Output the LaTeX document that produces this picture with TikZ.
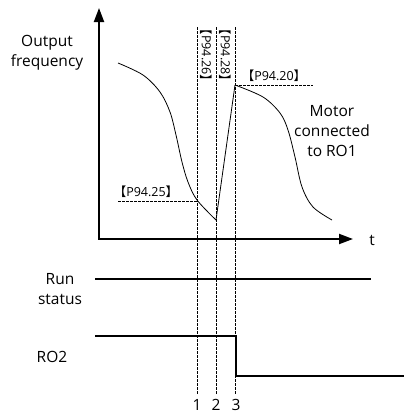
\documentclass[tikz,border=0pt]{standalone}
\usepackage{fontspec}
\setmainfont{Open Sans}
\newfontfamily\cjk{Noto Sans CJK SC}
\usetikzlibrary{arrows.meta}
\newcommand{\brk}[1]{{\cjk 【}#1{\cjk 】}}
\begin{document}
\begin{tikzpicture}[x=1pt,y=-1pt,
  axis/.style={line width=2pt,-{Triangle[length=14pt,width=10pt]}},
  curve/.style={line width=0.8pt},
  guide/.style={line width=0.6pt,dash pattern=on 2.5pt off 1.5pt},
  sig/.style={line width=2pt},
  lbl/.style={font=\fontsize{15.5}{20}\selectfont,align=center,inner sep=0pt},
  num/.style={font=\fontsize{15.5}{20}\selectfont,inner sep=0pt,anchor=base},
  par/.style={font=\fontsize{12.5}{14}\selectfont,inner sep=0pt}]
\useasboundingbox (0,0) rectangle (404,413);
% axes
\coordinate (O) at (99,239);
\coordinate (ytop) at (99,8);
\coordinate (xend) at (353,239);
\draw[axis] (O) -- (ytop);
\draw[axis] (98,239) -- (xend);
\node[lbl] (t) at (372,240) {t};
\node[lbl] (of) at (47,53) {Output\\frequency};
% guide lines
\coordinate (g1t) at (197,27); \coordinate (g1b) at (197,395);
\coordinate (g2t) at (216,27); \coordinate (g2b) at (216,395);
\coordinate (g3t) at (235,27); \coordinate (g3b) at (235,395);
\draw[guide] (g1t) -- (g1b);
\draw[guide] (g2t) -- (g2b);
\draw[guide] (g3t) -- (g3b);
\node[par,rotate=-90] (p26) at (206.5,55) {\brk{P94.26}};
\node[par,rotate=-90] (p28) at (225.5,55) {\brk{P94.28}};
% curves
\coordinate (low) at (216,220);
\coordinate (peak) at (235,85);
\draw[curve] plot[smooth,tension=0.55] coordinates {(118,63) (143,75) (160,92) (170,112) (176,135) (182,162) (188,182) (197,200) (216,220)};
\draw[curve] (low) -- (peak);
\draw[curve] plot[smooth,tension=0.55] coordinates {(235,85) (263,97) (280,113) (288,130) (295,157) (302,187) (313,207) (332,220)};
% parameter marks
\coordinate (h25a) at (118,201); \coordinate (h25b) at (197,201);
\draw[guide] (h25a) -- (h25b);
\node[par] (p25) at (146,192) {\brk{P94.25}};
\coordinate (h20b) at (313,85);
\draw[guide] (peak) -- (h20b);
\node[par] (p20) at (274,76) {\brk{P94.20}};
\node[lbl] (motor) at (332,131) {Motor\\connected\\to RO1};
% run status
\node[lbl] (run) at (60,289) {Run\\status};
\coordinate (r1) at (95,279); \coordinate (r2) at (371,279);
\draw[sig] (r1) -- (r2);
% RO2
\node[lbl] (ro2) at (52,357) {RO2};
\coordinate (s1) at (95,336); \coordinate (s2) at (236,336);
\coordinate (s3) at (236,376); \coordinate (s4) at (404,376);
\draw[sig] (s1) -- (s2) -- (s3) -- (s4);
% numbers
\node[num] (n1) at (197,410) {1};
\node[num] (n2) at (216,410) {2};
\node[num] (n3) at (236,410) {3};
\end{tikzpicture}
\end{document}
